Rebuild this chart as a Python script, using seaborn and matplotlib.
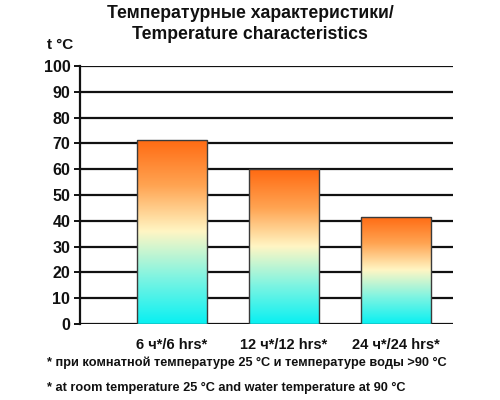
import numpy as np
import pandas as pd
import matplotlib
matplotlib.use('Agg')
import matplotlib.pyplot as plt
from matplotlib.colors import LinearSegmentedColormap
import seaborn as sns

categories = ['6 ч*/6 hrs*', '12 ч*/12 hrs*', '24 ч*/24 hrs*']
temps = [71.5, 60, 41.5]
y_ticks = [0, 10, 20, 30, 40, 50, 60, 70, 80, 90, 100]

title_text = 'Температурные характеристики/\nTemperature characteristics'
note_ru = '* при комнатной температуре 25 °С и температуре воды >90 °С'
note_en = '* at room temperature 25 °C and water temperature at 90 °C'

df = pd.DataFrame({'period': categories, 'temp': temps})

sns.set_theme(style='white')
plt.rcParams['font.family'] = ['Liberation Sans', 'DejaVu Sans']
plt.rcParams['font.weight'] = 'bold'

fig = plt.figure(figsize=(5, 4), dpi=100, facecolor='white')
ax = fig.add_axes([0.16, 0.19, 0.746, 0.645])

sns.barplot(data=df, x='period', y='temp', ax=ax, width=0.625,
            color='white', edgecolor='#3a3a3a', linewidth=1.0, zorder=3)

# gradient fill for each bar: cyan at the bottom -> pale yellow -> orange on top
grad = LinearSegmentedColormap.from_list('heat', [
    (0.0, '#08f0f2'), (0.25, '#7ef4e2'), (0.5, '#fff6c4'),
    (0.75, '#ffa452'), (1.0, '#ff6a12')])
g = np.linspace(0, 1, 256).reshape(-1, 1)
for p in ax.patches:
    x0, y0 = p.get_x(), p.get_y()
    w, h = p.get_width(), p.get_height()
    im = ax.imshow(g, cmap=grad, origin='lower', aspect='auto',
                   extent=[x0, x0 + w, y0, y0 + h], zorder=2.5)
    im.set_clip_path(p)
    p.set_facecolor('none')

ax.set_xlim(-0.82, 2.51)
ax.set_ylim(0, 100)
ax.set_yticks(y_ticks)
for t in y_ticks:
    ax.axhline(t, color='#111111', lw=1.6, zorder=1)

ax.set_xlabel('')
ax.set_ylabel('')
for s in ['top', 'right', 'bottom']:
    ax.spines[s].set_visible(False)
ax.spines['left'].set_color('#111111')
ax.spines['left'].set_linewidth(1.6)
ax.tick_params(axis='y', left=True, length=4, width=1.4, color='#111111',
               labelsize=11.5, labelcolor='#111111', pad=3)
ax.tick_params(axis='x', bottom=False, labelsize=10.5, labelcolor='#111111', pad=4)
for lab in ax.get_xticklabels() + ax.get_yticklabels():
    lab.set_fontweight('bold')

fig.text(0.5, 0.94, title_text, ha='center', va='center', fontsize=12.7,
         fontweight='bold', color='#111111', linespacing=1.3)
fig.text(0.094, 0.888, 't °C', ha='left', va='center', fontsize=11,
         fontweight='bold', color='#111111')
fig.text(0.094, 0.092, note_ru, ha='left', va='center', fontsize=9.2,
         fontweight='bold', color='#111111')
fig.text(0.094, 0.029, note_en, ha='left', va='center', fontsize=9.2,
         fontweight='bold', color='#111111')

fig.savefig('out.png', dpi=100, facecolor='white')
